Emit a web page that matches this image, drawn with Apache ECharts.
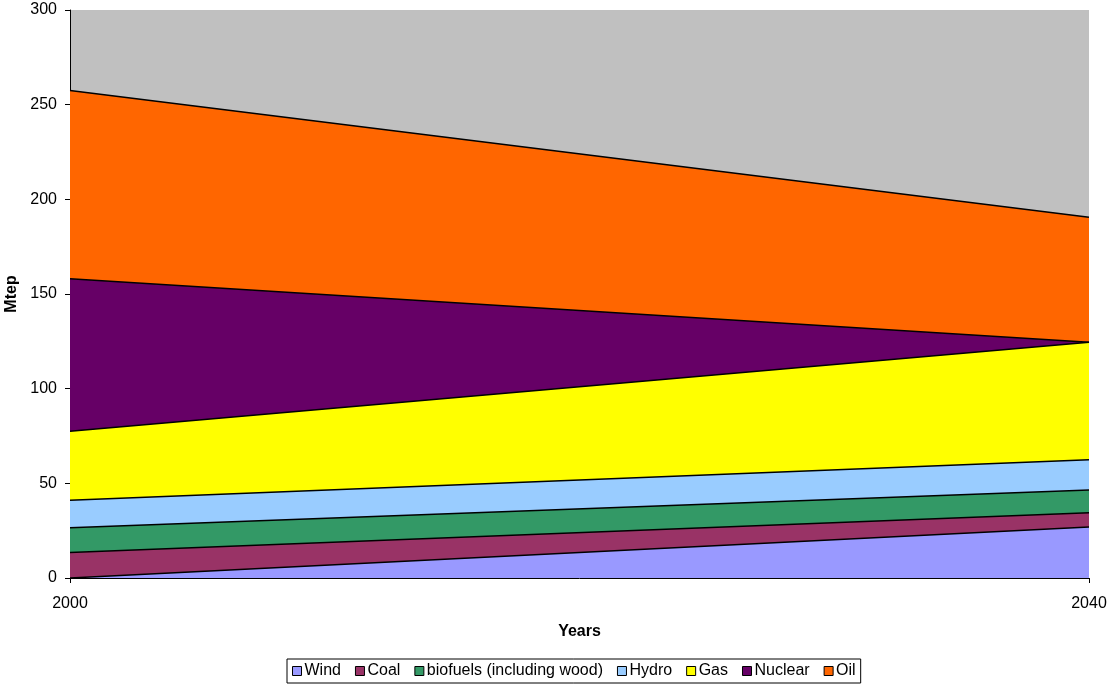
<!DOCTYPE html>
<html><head><meta charset="utf-8">
<script src="https://cdn.jsdelivr.net/npm/echarts@6/dist/echarts.min.js"></script>
<style>html,body{margin:0;padding:0;background:#fff}#c{width:1109px;height:687px}</style>
</head><body><div id="c"></div>
<script>
const years = ['2000', '2040'];
const seriesNames = ['Wind', 'Coal', 'biofuels (including wood)', 'Hydro', 'Gas', 'Nuclear', 'Oil'];
const wind = [0, 27];
const coal = [13.5, 7.5];
const biofuels = [13, 12];
const hydro = [14.5, 16];
const gas = [36.5, 62];
const nuclear = [80.5, 0];
const oil = [99.5, 66];
const yTicks = [0, 50, 100, 150, 200, 250, 300];
const colors = ['#9999FF', '#993366', '#339966', '#99CCFF', '#FFFF00', '#660066', '#FF6600'];
const values = [wind, coal, biofuels, hydro, gas, nuclear, oil];

const font = 'Liberation Sans, Arial, sans-serif';
const chart = echarts.init(document.getElementById('c'));
chart.setOption({
  animation: false,
  textStyle: { fontFamily: font },
  grid: { left: 70, right: 20, top: 10, bottom: 109, show: true, backgroundColor: '#C0C0C0', borderWidth: 0, outerBoundsMode: 'none', containLabel: false },
  legend: {
    data: seriesNames,
    top: 659, left: 287,
    itemWidth: 9, itemHeight: 9, itemGap: 14,
    icon: 'rect',
    itemStyle: { borderColor: '#000', borderWidth: 1 },
    textStyle: { fontSize: 16, color: '#000', fontFamily: font, padding: [0, 0, 0, -2] },
    borderColor: '#000', borderWidth: 1, padding: [4, 5],
    selectedMode: false
  },
  xAxis: {
    type: 'category', data: years, boundaryGap: false,
    name: 'Years', nameLocation: 'middle', nameGap: 46,
    nameTextStyle: { fontWeight: 'bold', fontSize: 16, color: '#000', fontFamily: font },
    axisLine: { lineStyle: { color: '#000' } },
    axisTick: { show: true, lineStyle: { color: '#000' }, length: 5, alignWithLabel: true },
    axisLabel: { color: '#000', fontSize: 16, margin: 18, fontFamily: font },
    splitLine: { show: false }
  },
  yAxis: {
    type: 'value', min: yTicks[0], max: yTicks[yTicks.length - 1], interval: 50,
    name: 'Mtep', nameLocation: 'middle', nameGap: 50,
    nameTextStyle: { fontWeight: 'bold', fontSize: 16, color: '#000', fontFamily: font },
    axisLine: { show: true, lineStyle: { color: '#000' } },
    axisTick: { show: true, lineStyle: { color: '#000' }, length: 5 },
    axisLabel: { color: '#000', fontSize: 16, margin: 13, fontFamily: font },
    splitLine: { show: false }
  },
  series: seriesNames.map((n, i) => ({
    name: n, type: 'line', stack: 'total', data: values[i],
    symbol: 'none', showSymbol: false,
    lineStyle: { color: '#000', width: 1.5 },
    itemStyle: { color: colors[i] },
    areaStyle: { color: colors[i], opacity: 1 },
    z: 2
  }))
});
</script></body></html>
